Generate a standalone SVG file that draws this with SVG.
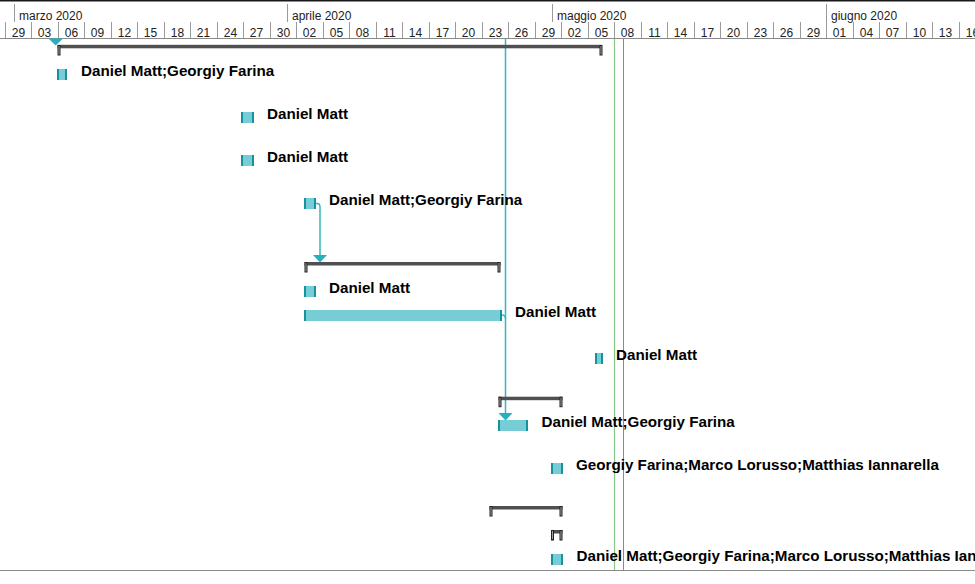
<svg xmlns="http://www.w3.org/2000/svg" width="975" height="584" viewBox="0 0 975 584">
<defs>
<style>
.hdr{font-family:"Liberation Sans",Arial,sans-serif;font-size:12px;fill:#222}
.day{text-anchor:middle}
.tick{stroke:#9a9a9a;stroke-width:1}
.lbl{font-family:"Liberation Sans",Arial,sans-serif;font-size:15.2px;font-weight:bold;fill:#000}
.tfill{fill:#76cdd5}
.tedge{fill:#15929e}
.sbar{fill:#505050}
.scap{fill:#a0a0a0;stroke:#222;stroke-width:1}
.link{fill:none;stroke:#35b6c4;stroke-width:1.5}
.arrow{fill:#2aaebd}
</style>
</defs>
<rect x="0" y="0" width="975" height="584" fill="#fff"/>
<g id="timescale">
<rect x="0" y="0" width="975" height="1.5" fill="#1a1a1a"/>
<g class="tick">
<line x1="14.5" y1="4" x2="14.5" y2="22"/>
<line x1="287.5" y1="4" x2="287.5" y2="22"/>
<line x1="552.5" y1="4" x2="552.5" y2="22"/>
<line x1="826.5" y1="4" x2="826.5" y2="22"/>
<line x1="5.5" y1="22" x2="5.5" y2="38"/>
<line x1="31.5" y1="22" x2="31.5" y2="38"/>
<line x1="58.5" y1="22" x2="58.5" y2="38"/>
<line x1="84.5" y1="22" x2="84.5" y2="38"/>
<line x1="111.5" y1="22" x2="111.5" y2="38"/>
<line x1="137.5" y1="22" x2="137.5" y2="38"/>
<line x1="164.5" y1="22" x2="164.5" y2="38"/>
<line x1="190.5" y1="22" x2="190.5" y2="38"/>
<line x1="217.5" y1="22" x2="217.5" y2="38"/>
<line x1="243.5" y1="22" x2="243.5" y2="38"/>
<line x1="270.5" y1="22" x2="270.5" y2="38"/>
<line x1="296.5" y1="22" x2="296.5" y2="38"/>
<line x1="323.5" y1="22" x2="323.5" y2="38"/>
<line x1="349.5" y1="22" x2="349.5" y2="38"/>
<line x1="376.5" y1="22" x2="376.5" y2="38"/>
<line x1="402.5" y1="22" x2="402.5" y2="38"/>
<line x1="429.5" y1="22" x2="429.5" y2="38"/>
<line x1="455.5" y1="22" x2="455.5" y2="38"/>
<line x1="482.5" y1="22" x2="482.5" y2="38"/>
<line x1="508.5" y1="22" x2="508.5" y2="38"/>
<line x1="535.5" y1="22" x2="535.5" y2="38"/>
<line x1="561.5" y1="22" x2="561.5" y2="38"/>
<line x1="588.5" y1="22" x2="588.5" y2="38"/>
<line x1="614.5" y1="22" x2="614.5" y2="38"/>
<line x1="641.5" y1="22" x2="641.5" y2="38"/>
<line x1="667.5" y1="22" x2="667.5" y2="38"/>
<line x1="694.5" y1="22" x2="694.5" y2="38"/>
<line x1="720.5" y1="22" x2="720.5" y2="38"/>
<line x1="747.5" y1="22" x2="747.5" y2="38"/>
<line x1="773.5" y1="22" x2="773.5" y2="38"/>
<line x1="800.5" y1="22" x2="800.5" y2="38"/>
<line x1="826.5" y1="22" x2="826.5" y2="38"/>
<line x1="853.5" y1="22" x2="853.5" y2="38"/>
<line x1="879.5" y1="22" x2="879.5" y2="38"/>
<line x1="906.5" y1="22" x2="906.5" y2="38"/>
<line x1="932.5" y1="22" x2="932.5" y2="38"/>
<line x1="959.5" y1="22" x2="959.5" y2="38"/>
</g>
<line x1="0" y1="38.5" x2="975" y2="38.5" stroke="#8a8a8a" stroke-width="1"/>
<text class="hdr" x="19" y="19.5">marzo 2020</text>
<text class="hdr" x="292" y="19.5">aprile 2020</text>
<text class="hdr" x="557" y="19.5">maggio 2020</text>
<text class="hdr" x="831" y="19.5">giugno 2020</text>
<g class="hdr day">
<text x="18.5" y="36.5">29</text>
<text x="44.5" y="36.5">03</text>
<text x="71.5" y="36.5">06</text>
<text x="97.5" y="36.5">09</text>
<text x="124.5" y="36.5">12</text>
<text x="150.5" y="36.5">15</text>
<text x="177.5" y="36.5">18</text>
<text x="203.5" y="36.5">21</text>
<text x="230.5" y="36.5">24</text>
<text x="256.5" y="36.5">27</text>
<text x="283.5" y="36.5">30</text>
<text x="309.5" y="36.5">02</text>
<text x="336.5" y="36.5">05</text>
<text x="362.5" y="36.5">08</text>
<text x="389.5" y="36.5">11</text>
<text x="415.5" y="36.5">14</text>
<text x="442.5" y="36.5">17</text>
<text x="468.5" y="36.5">20</text>
<text x="495.5" y="36.5">23</text>
<text x="521.5" y="36.5">26</text>
<text x="548.5" y="36.5">29</text>
<text x="574.5" y="36.5">02</text>
<text x="601.5" y="36.5">05</text>
<text x="627.5" y="36.5">08</text>
<text x="654.5" y="36.5">11</text>
<text x="680.5" y="36.5">14</text>
<text x="707.5" y="36.5">17</text>
<text x="733.5" y="36.5">20</text>
<text x="760.5" y="36.5">23</text>
<text x="786.5" y="36.5">26</text>
<text x="813.5" y="36.5">29</text>
<text x="839.5" y="36.5">01</text>
<text x="866.5" y="36.5">04</text>
<text x="892.5" y="36.5">07</text>
<text x="919.5" y="36.5">10</text>
<text x="945.5" y="36.5">13</text>
<text x="972.5" y="36.5">16</text>
</g>
</g>
<g id="markers">
<line x1="614.5" y1="39" x2="614.5" y2="570" stroke="#86c686" stroke-width="1.2"/>
<line x1="623.5" y1="39" x2="623.5" y2="570" stroke="#8a8a8a" stroke-width="1"/>
<line x1="0" y1="570.5" x2="975" y2="570.5" stroke="#8a8a8a" stroke-width="1"/>
</g>
<g id="connectors">
<path class="link" d="M505.5,39 V414"/>
<path class="link" d="M502,315 Q505.5,315 505.5,319"/>
<path class="link" d="M316,203.5 H317 Q320,203.5 320,207 V256"/>
<polygon class="arrow" points="48.5,38.5 63,38.5 55.7,45.5"/>
<polygon class="arrow" points="313,255 327,255 320,262.5"/>
<polygon class="arrow" points="498.5,413 512.5,413 505.5,420.5"/>
</g>
<g id="summary1">
<rect class="sbar" x="57.5" y="44.8" width="544" height="3.5"/>
<rect class="scap" x="58" y="45.5" width="2" height="9.5"/>
<rect class="scap" x="600" y="45.5" width="2" height="9.5"/>
</g>
<g id="task1">
<rect class="tfill" x="57" y="69" width="10" height="11"/>
<rect class="tedge" x="57" y="69" width="2" height="11"/>
<rect class="tedge" x="65" y="69" width="2" height="11"/>
<text class="lbl" x="81" y="76">Daniel Matt;Georgiy Farina</text>
</g>
<g id="task2">
<rect class="tfill" x="241" y="112" width="13" height="11"/>
<rect class="tedge" x="241" y="112" width="2" height="11"/>
<rect class="tedge" x="252" y="112" width="2" height="11"/>
<text class="lbl" x="267" y="119">Daniel Matt</text>
</g>
<g id="task3">
<rect class="tfill" x="241" y="155" width="13" height="11"/>
<rect class="tedge" x="241" y="155" width="2" height="11"/>
<rect class="tedge" x="252" y="155" width="2" height="11"/>
<text class="lbl" x="267" y="162">Daniel Matt</text>
</g>
<g id="task4">
<rect class="tfill" x="304" y="198" width="12" height="11"/>
<rect class="tedge" x="304" y="198" width="2" height="11"/>
<rect class="tedge" x="314" y="198" width="2" height="11"/>
<text class="lbl" x="329" y="205">Daniel Matt;Georgiy Farina</text>
</g>
<g id="summary2">
<rect class="sbar" x="304.5" y="262" width="196" height="3.5"/>
<rect class="scap" x="305" y="262.5" width="2" height="9.5"/>
<rect class="scap" x="498" y="262.5" width="2" height="9.5"/>
</g>
<g id="task5">
<rect class="tfill" x="304" y="286" width="12" height="11"/>
<rect class="tedge" x="304" y="286" width="2" height="11"/>
<rect class="tedge" x="314" y="286" width="2" height="11"/>
<text class="lbl" x="329" y="293">Daniel Matt</text>
</g>
<g id="task6">
<rect class="tfill" x="304" y="310" width="198" height="11"/>
<rect class="tedge" x="304" y="310" width="2" height="11"/>
<rect class="tedge" x="500" y="310" width="2" height="11"/>
<text class="lbl" x="515" y="316.5">Daniel Matt</text>
</g>
<g id="task7">
<rect class="tfill" x="595" y="353" width="8" height="11"/>
<rect class="tedge" x="595" y="353" width="2" height="11"/>
<rect class="tedge" x="601" y="353" width="2" height="11"/>
<text class="lbl" x="616" y="359.5">Daniel Matt</text>
</g>
<g id="summary3">
<rect class="sbar" x="498.5" y="396.7" width="64" height="3.5"/>
<rect class="scap" x="499" y="397.2" width="2" height="9.5"/>
<rect class="scap" x="560" y="397.2" width="2" height="9.5"/>
</g>
<g id="task8">
<rect class="tfill" x="498" y="420" width="30" height="11"/>
<rect class="tedge" x="498" y="420" width="2" height="11"/>
<rect class="tedge" x="526" y="420" width="2" height="11"/>
<text class="lbl" x="541.5" y="427">Daniel Matt;Georgiy Farina</text>
</g>
<g id="task9">
<rect class="tfill" x="551" y="463" width="12" height="11"/>
<rect class="tedge" x="551" y="463" width="2" height="11"/>
<rect class="tedge" x="561" y="463" width="2" height="11"/>
<text class="lbl" x="576" y="470">Georgiy Farina;Marco Lorusso;Matthias Iannarella</text>
</g>
<g id="summary4">
<rect class="sbar" x="489.5" y="506" width="73" height="3.5"/>
<rect class="scap" x="490" y="506.5" width="2" height="9.5"/>
<rect class="scap" x="560" y="506.5" width="2" height="9.5"/>
</g>
<g id="summary5">
<rect class="sbar" x="551" y="530" width="11.5" height="3.5"/>
<rect class="scap" x="551.5" y="530.5" width="2" height="9.5"/>
<rect class="scap" x="560" y="530.5" width="2" height="9.5"/>
</g>
<g id="task10">
<rect class="tfill" x="551" y="554" width="12" height="11"/>
<rect class="tedge" x="551" y="554" width="2" height="11"/>
<rect class="tedge" x="561" y="554" width="2" height="11"/>
<text class="lbl" x="576.5" y="561">Daniel Matt;Georgiy Farina;Marco Lorusso;Matthias Iannarella</text>
</g>
</svg>
